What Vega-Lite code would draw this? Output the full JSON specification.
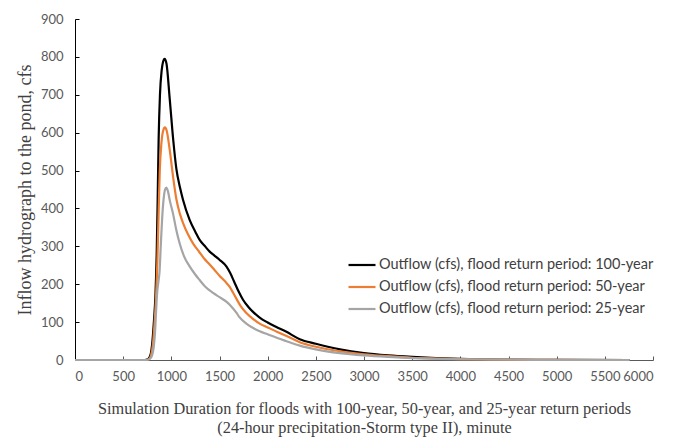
{
  "$schema": "https://vega.github.io/schema/vega-lite/v6.json",
  "width": 578,
  "height": 341,
  "autosize": {"type": "none"},
  "padding": {"left": 75, "top": 19, "right": 28, "bottom": 80},
  "background": "white",
  "config": {"view": {"stroke": null}},
  "datasets": {
    "flows": [
      {"t": 0, "q": 0, "s": "Outflow (cfs), flood return period: 100-year"},
      {"t": 600, "q": 0, "s": "Outflow (cfs), flood return period: 100-year"},
      {"t": 720, "q": 0, "s": "Outflow (cfs), flood return period: 100-year"},
      {"t": 760, "q": 3, "s": "Outflow (cfs), flood return period: 100-year"},
      {"t": 785, "q": 15, "s": "Outflow (cfs), flood return period: 100-year"},
      {"t": 800, "q": 40, "s": "Outflow (cfs), flood return period: 100-year"},
      {"t": 820, "q": 105, "s": "Outflow (cfs), flood return period: 100-year"},
      {"t": 835, "q": 170, "s": "Outflow (cfs), flood return period: 100-year"},
      {"t": 848, "q": 280, "s": "Outflow (cfs), flood return period: 100-year"},
      {"t": 858, "q": 420, "s": "Outflow (cfs), flood return period: 100-year"},
      {"t": 868, "q": 580, "s": "Outflow (cfs), flood return period: 100-year"},
      {"t": 882, "q": 700, "s": "Outflow (cfs), flood return period: 100-year"},
      {"t": 900, "q": 765, "s": "Outflow (cfs), flood return period: 100-year"},
      {"t": 915, "q": 788, "s": "Outflow (cfs), flood return period: 100-year"},
      {"t": 931, "q": 795, "s": "Outflow (cfs), flood return period: 100-year"},
      {"t": 950, "q": 782, "s": "Outflow (cfs), flood return period: 100-year"},
      {"t": 983, "q": 690, "s": "Outflow (cfs), flood return period: 100-year"},
      {"t": 1020, "q": 580, "s": "Outflow (cfs), flood return period: 100-year"},
      {"t": 1052, "q": 505, "s": "Outflow (cfs), flood return period: 100-year"},
      {"t": 1090, "q": 455, "s": "Outflow (cfs), flood return period: 100-year"},
      {"t": 1121, "q": 423, "s": "Outflow (cfs), flood return period: 100-year"},
      {"t": 1190, "q": 370, "s": "Outflow (cfs), flood return period: 100-year"},
      {"t": 1250, "q": 338, "s": "Outflow (cfs), flood return period: 100-year"},
      {"t": 1294, "q": 317, "s": "Outflow (cfs), flood return period: 100-year"},
      {"t": 1350, "q": 300, "s": "Outflow (cfs), flood return period: 100-year"},
      {"t": 1398, "q": 286, "s": "Outflow (cfs), flood return period: 100-year"},
      {"t": 1450, "q": 275, "s": "Outflow (cfs), flood return period: 100-year"},
      {"t": 1502, "q": 264, "s": "Outflow (cfs), flood return period: 100-year"},
      {"t": 1571, "q": 247, "s": "Outflow (cfs), flood return period: 100-year"},
      {"t": 1610, "q": 230, "s": "Outflow (cfs), flood return period: 100-year"},
      {"t": 1650, "q": 208, "s": "Outflow (cfs), flood return period: 100-year"},
      {"t": 1700, "q": 180, "s": "Outflow (cfs), flood return period: 100-year"},
      {"t": 1744, "q": 159, "s": "Outflow (cfs), flood return period: 100-year"},
      {"t": 1800, "q": 140, "s": "Outflow (cfs), flood return period: 100-year"},
      {"t": 1848, "q": 127, "s": "Outflow (cfs), flood return period: 100-year"},
      {"t": 1917, "q": 112, "s": "Outflow (cfs), flood return period: 100-year"},
      {"t": 2000, "q": 99, "s": "Outflow (cfs), flood return period: 100-year"},
      {"t": 2100, "q": 86, "s": "Outflow (cfs), flood return period: 100-year"},
      {"t": 2190, "q": 75, "s": "Outflow (cfs), flood return period: 100-year"},
      {"t": 2333, "q": 55, "s": "Outflow (cfs), flood return period: 100-year"},
      {"t": 2500, "q": 43, "s": "Outflow (cfs), flood return period: 100-year"},
      {"t": 2750, "q": 28, "s": "Outflow (cfs), flood return period: 100-year"},
      {"t": 3000, "q": 18, "s": "Outflow (cfs), flood return period: 100-year"},
      {"t": 3250, "q": 12, "s": "Outflow (cfs), flood return period: 100-year"},
      {"t": 3500, "q": 8, "s": "Outflow (cfs), flood return period: 100-year"},
      {"t": 3750, "q": 5, "s": "Outflow (cfs), flood return period: 100-year"},
      {"t": 4000, "q": 3, "s": "Outflow (cfs), flood return period: 100-year"},
      {"t": 4500, "q": 1, "s": "Outflow (cfs), flood return period: 100-year"},
      {"t": 5000, "q": 0.3, "s": "Outflow (cfs), flood return period: 100-year"},
      {"t": 5757, "q": 0, "s": "Outflow (cfs), flood return period: 100-year"},

      {"t": 0, "q": 0, "s": "Outflow (cfs), flood return period: 50-year"},
      {"t": 730, "q": 0, "s": "Outflow (cfs), flood return period: 50-year"},
      {"t": 770, "q": 3, "s": "Outflow (cfs), flood return period: 50-year"},
      {"t": 792, "q": 15, "s": "Outflow (cfs), flood return period: 50-year"},
      {"t": 808, "q": 40, "s": "Outflow (cfs), flood return period: 50-year"},
      {"t": 825, "q": 95, "s": "Outflow (cfs), flood return period: 50-year"},
      {"t": 840, "q": 160, "s": "Outflow (cfs), flood return period: 50-year"},
      {"t": 855, "q": 260, "s": "Outflow (cfs), flood return period: 50-year"},
      {"t": 868, "q": 390, "s": "Outflow (cfs), flood return period: 50-year"},
      {"t": 880, "q": 500, "s": "Outflow (cfs), flood return period: 50-year"},
      {"t": 898, "q": 575, "s": "Outflow (cfs), flood return period: 50-year"},
      {"t": 915, "q": 605, "s": "Outflow (cfs), flood return period: 50-year"},
      {"t": 933, "q": 614, "s": "Outflow (cfs), flood return period: 50-year"},
      {"t": 952, "q": 605, "s": "Outflow (cfs), flood return period: 50-year"},
      {"t": 983, "q": 555, "s": "Outflow (cfs), flood return period: 50-year"},
      {"t": 1020, "q": 480, "s": "Outflow (cfs), flood return period: 50-year"},
      {"t": 1052, "q": 425, "s": "Outflow (cfs), flood return period: 50-year"},
      {"t": 1090, "q": 385, "s": "Outflow (cfs), flood return period: 50-year"},
      {"t": 1121, "q": 362, "s": "Outflow (cfs), flood return period: 50-year"},
      {"t": 1170, "q": 333, "s": "Outflow (cfs), flood return period: 50-year"},
      {"t": 1225, "q": 308, "s": "Outflow (cfs), flood return period: 50-year"},
      {"t": 1290, "q": 285, "s": "Outflow (cfs), flood return period: 50-year"},
      {"t": 1340, "q": 268, "s": "Outflow (cfs), flood return period: 50-year"},
      {"t": 1398, "q": 252, "s": "Outflow (cfs), flood return period: 50-year"},
      {"t": 1450, "q": 237, "s": "Outflow (cfs), flood return period: 50-year"},
      {"t": 1502, "q": 222, "s": "Outflow (cfs), flood return period: 50-year"},
      {"t": 1560, "q": 207, "s": "Outflow (cfs), flood return period: 50-year"},
      {"t": 1606, "q": 193, "s": "Outflow (cfs), flood return period: 50-year"},
      {"t": 1640, "q": 178, "s": "Outflow (cfs), flood return period: 50-year"},
      {"t": 1675, "q": 162, "s": "Outflow (cfs), flood return period: 50-year"},
      {"t": 1720, "q": 142, "s": "Outflow (cfs), flood return period: 50-year"},
      {"t": 1779, "q": 124, "s": "Outflow (cfs), flood return period: 50-year"},
      {"t": 1850, "q": 108, "s": "Outflow (cfs), flood return period: 50-year"},
      {"t": 1917, "q": 96, "s": "Outflow (cfs), flood return period: 50-year"},
      {"t": 2000, "q": 86, "s": "Outflow (cfs), flood return period: 50-year"},
      {"t": 2100, "q": 74, "s": "Outflow (cfs), flood return period: 50-year"},
      {"t": 2190, "q": 64, "s": "Outflow (cfs), flood return period: 50-year"},
      {"t": 2333, "q": 47, "s": "Outflow (cfs), flood return period: 50-year"},
      {"t": 2500, "q": 35, "s": "Outflow (cfs), flood return period: 50-year"},
      {"t": 2750, "q": 23, "s": "Outflow (cfs), flood return period: 50-year"},
      {"t": 3000, "q": 15, "s": "Outflow (cfs), flood return period: 50-year"},
      {"t": 3250, "q": 10, "s": "Outflow (cfs), flood return period: 50-year"},
      {"t": 3500, "q": 6, "s": "Outflow (cfs), flood return period: 50-year"},
      {"t": 3750, "q": 4, "s": "Outflow (cfs), flood return period: 50-year"},
      {"t": 4000, "q": 2.5, "s": "Outflow (cfs), flood return period: 50-year"},
      {"t": 4500, "q": 1, "s": "Outflow (cfs), flood return period: 50-year"},
      {"t": 5000, "q": 0.3, "s": "Outflow (cfs), flood return period: 50-year"},
      {"t": 5757, "q": 0, "s": "Outflow (cfs), flood return period: 50-year"},

      {"t": 0, "q": 0, "s": "Outflow (cfs), flood return period: 25-year"},
      {"t": 740, "q": 0, "s": "Outflow (cfs), flood return period: 25-year"},
      {"t": 778, "q": 3, "s": "Outflow (cfs), flood return period: 25-year"},
      {"t": 800, "q": 12, "s": "Outflow (cfs), flood return period: 25-year"},
      {"t": 815, "q": 30, "s": "Outflow (cfs), flood return period: 25-year"},
      {"t": 830, "q": 70, "s": "Outflow (cfs), flood return period: 25-year"},
      {"t": 842, "q": 130, "s": "Outflow (cfs), flood return period: 25-year"},
      {"t": 852, "q": 175, "s": "Outflow (cfs), flood return period: 25-year"},
      {"t": 865, "q": 205, "s": "Outflow (cfs), flood return period: 25-year"},
      {"t": 878, "q": 235, "s": "Outflow (cfs), flood return period: 25-year"},
      {"t": 890, "q": 300, "s": "Outflow (cfs), flood return period: 25-year"},
      {"t": 905, "q": 375, "s": "Outflow (cfs), flood return period: 25-year"},
      {"t": 920, "q": 425, "s": "Outflow (cfs), flood return period: 25-year"},
      {"t": 935, "q": 450, "s": "Outflow (cfs), flood return period: 25-year"},
      {"t": 948, "q": 455, "s": "Outflow (cfs), flood return period: 25-year"},
      {"t": 965, "q": 445, "s": "Outflow (cfs), flood return period: 25-year"},
      {"t": 985, "q": 420, "s": "Outflow (cfs), flood return period: 25-year"},
      {"t": 1017, "q": 387, "s": "Outflow (cfs), flood return period: 25-year"},
      {"t": 1050, "q": 345, "s": "Outflow (cfs), flood return period: 25-year"},
      {"t": 1086, "q": 308, "s": "Outflow (cfs), flood return period: 25-year"},
      {"t": 1130, "q": 275, "s": "Outflow (cfs), flood return period: 25-year"},
      {"t": 1190, "q": 247, "s": "Outflow (cfs), flood return period: 25-year"},
      {"t": 1250, "q": 225, "s": "Outflow (cfs), flood return period: 25-year"},
      {"t": 1294, "q": 211, "s": "Outflow (cfs), flood return period: 25-year"},
      {"t": 1350, "q": 194, "s": "Outflow (cfs), flood return period: 25-year"},
      {"t": 1433, "q": 177, "s": "Outflow (cfs), flood return period: 25-year"},
      {"t": 1500, "q": 166, "s": "Outflow (cfs), flood return period: 25-year"},
      {"t": 1571, "q": 154, "s": "Outflow (cfs), flood return period: 25-year"},
      {"t": 1620, "q": 142, "s": "Outflow (cfs), flood return period: 25-year"},
      {"t": 1675, "q": 125, "s": "Outflow (cfs), flood return period: 25-year"},
      {"t": 1707, "q": 113, "s": "Outflow (cfs), flood return period: 25-year"},
      {"t": 1779, "q": 96, "s": "Outflow (cfs), flood return period: 25-year"},
      {"t": 1845, "q": 85, "s": "Outflow (cfs), flood return period: 25-year"},
      {"t": 1917, "q": 76, "s": "Outflow (cfs), flood return period: 25-year"},
      {"t": 2000, "q": 68, "s": "Outflow (cfs), flood return period: 25-year"},
      {"t": 2100, "q": 58, "s": "Outflow (cfs), flood return period: 25-year"},
      {"t": 2190, "q": 50, "s": "Outflow (cfs), flood return period: 25-year"},
      {"t": 2333, "q": 38, "s": "Outflow (cfs), flood return period: 25-year"},
      {"t": 2500, "q": 28, "s": "Outflow (cfs), flood return period: 25-year"},
      {"t": 2750, "q": 18, "s": "Outflow (cfs), flood return period: 25-year"},
      {"t": 3000, "q": 12, "s": "Outflow (cfs), flood return period: 25-year"},
      {"t": 3250, "q": 8, "s": "Outflow (cfs), flood return period: 25-year"},
      {"t": 3500, "q": 5, "s": "Outflow (cfs), flood return period: 25-year"},
      {"t": 3750, "q": 3, "s": "Outflow (cfs), flood return period: 25-year"},
      {"t": 4000, "q": 2, "s": "Outflow (cfs), flood return period: 25-year"},
      {"t": 4500, "q": 0.8, "s": "Outflow (cfs), flood return period: 25-year"},
      {"t": 5000, "q": 0.2, "s": "Outflow (cfs), flood return period: 25-year"},
      {"t": 5757, "q": 0, "s": "Outflow (cfs), flood return period: 25-year"}
    ]
  },
  "data": {"name": "flows"},
  "mark": {"type": "line", "interpolate": "monotone", "strokeWidth": 2.2},
  "encoding": {
    "x": {
      "field": "t", "type": "quantitative",
      "scale": {"domain": [0, 6000], "nice": false},
      "axis": {
        "values": [0, 500, 1000, 1500, 2000, 2500, 3000, 3500, 4000, 4500, 5000, 5500, 6000],
        "format": "d",
        "grid": false, "domainColor": "#595959", "domainWidth": 1,
        "tickColor": "#595959", "tickSize": -4, "labelPadding": 14,
        "labelFont": "Lato", "labelFontSize": 13, "labelColor": "#595959",
        "title": ["Simulation Duration for floods with 100-year, 50-year, and 25-year return periods", "(24-hour precipitation-Storm type II), minute"],
        "titleFont": "Liberation Serif", "titleFontSize": 16.3, "titleFontWeight": "normal",
        "titleColor": "#404040", "titlePadding": 17, "titleLineHeight": 19
      }
    },
    "y": {
      "field": "q", "type": "quantitative",
      "scale": {"domain": [0, 900], "nice": false},
      "axis": {
        "values": [0, 100, 200, 300, 400, 500, 600, 700, 800, 900],
        "format": "d",
        "grid": false, "domainColor": "#000000", "domainWidth": 1,
        "tickColor": "#000000", "tickSize": -4, "labelPadding": 16,
        "labelFont": "Lato", "labelFontSize": 13, "labelColor": "#595959",
        "title": "Inflow hydrograph to the pond, cfs",
        "titleFont": "Liberation Serif", "titleFontSize": 18, "titleFontWeight": "normal",
        "titleColor": "#404040", "titlePadding": 6
      }
    },
    "color": {
      "field": "s", "type": "nominal",
      "scale": {
        "domain": ["Outflow (cfs), flood return period: 100-year", "Outflow (cfs), flood return period: 50-year", "Outflow (cfs), flood return period: 25-year"],
        "range": ["#000000", "#ED7D31", "#A5A5A5"]
      },
      "legend": {
        "title": null, "orient": "none", "legendX": 272, "legendY": 231,
        "symbolType": "stroke", "symbolSize": 729, "symbolStrokeWidth": 2.2,
        "labelFont": "Lato", "labelFontSize": 14.5, "labelColor": "#404040",
        "labelOffset": 2, "rowPadding": -4, "labelLimit": 400
      }
    }
  }
}
